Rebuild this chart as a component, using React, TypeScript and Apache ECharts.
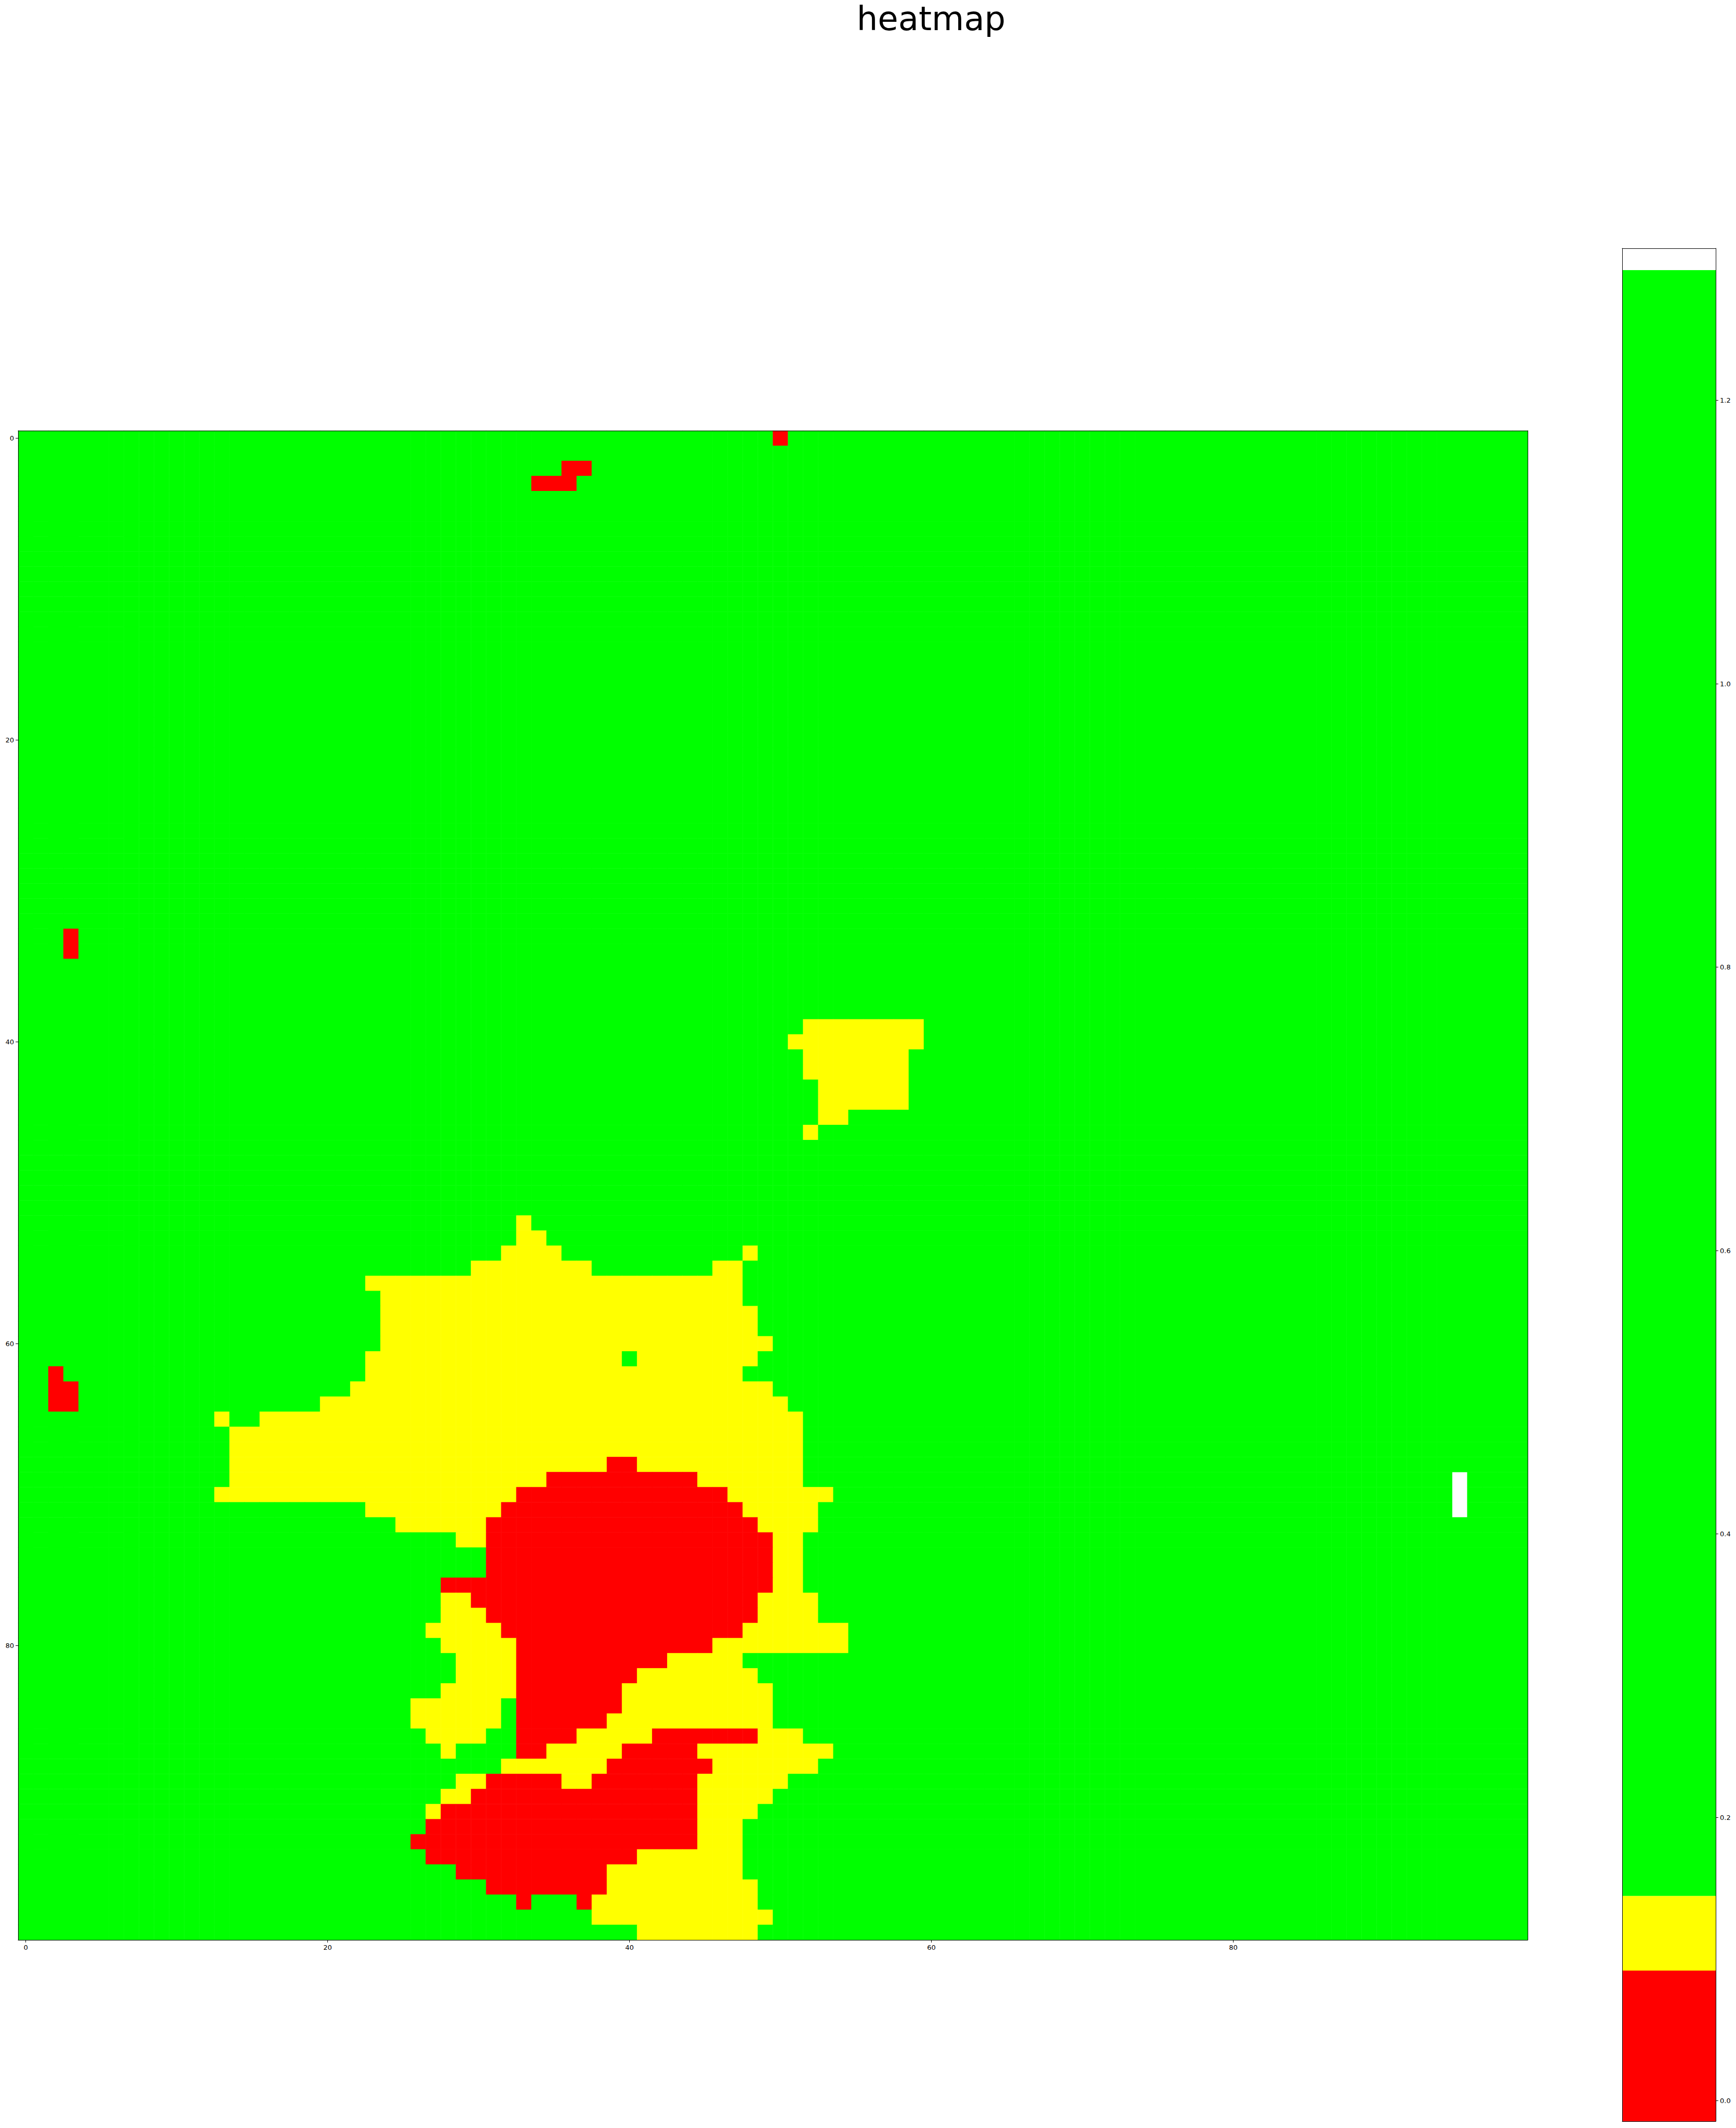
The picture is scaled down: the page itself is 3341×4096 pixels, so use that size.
import React, { useEffect, useRef } from 'react';
import * as echarts from 'echarts';

// ---- Data ----
const N_COLS = 100;
const N_ROWS = 100;
const xCategories: string[] = Array.from({ length: N_COLS }, (_, i) => String(i));
const yCategories: string[] = Array.from({ length: N_ROWS }, (_, i) => String(i));
const axisTickValues: number[] = [0, 20, 40, 60, 80];

// cell levels
const RED_VALUE = 0.0;
const YELLOW_VALUE = 0.12;
const GREEN_VALUE = 1.0; // background level of the field

// runs of cells: [row, firstCol, lastCol]
const redRuns: [number, number, number][] = [
  [0, 50, 50], [2, 36, 37], [3, 34, 36],
  [33, 3, 3], [34, 3, 3],
  [62, 2, 2], [63, 2, 3], [64, 2, 3],
  [68, 39, 40], [69, 35, 44], [70, 33, 46], [71, 32, 47], [72, 31, 48],
  [73, 31, 49], [74, 31, 49], [75, 31, 49], [76, 28, 49], [77, 30, 48],
  [78, 31, 48], [79, 32, 47], [80, 33, 45], [81, 33, 42], [82, 33, 40],
  [83, 33, 39], [84, 33, 39], [85, 33, 38],
  [86, 33, 36], [86, 42, 48],
  [87, 33, 34], [87, 40, 44],
  [88, 39, 45],
  [89, 31, 35], [89, 38, 44],
  [90, 30, 44], [91, 28, 44], [92, 27, 44], [93, 26, 44], [94, 27, 40],
  [95, 29, 38], [96, 31, 38],
  [97, 33, 33], [97, 37, 37],
];

const yellowRuns: [number, number, number][] = [
  [39, 52, 59], [40, 51, 59], [41, 52, 58], [42, 52, 58], [43, 53, 58],
  [44, 53, 58], [45, 53, 54], [46, 52, 52],
  [52, 33, 33], [53, 33, 34],
  [54, 32, 35], [54, 48, 48],
  [55, 30, 37], [55, 46, 47],
  [56, 23, 47], [57, 24, 47], [58, 24, 48], [59, 24, 48], [60, 24, 49],
  [61, 23, 39], [61, 41, 48],
  [62, 23, 47], [63, 22, 49], [64, 20, 50],
  [65, 13, 13], [65, 16, 51],
  [66, 14, 51], [67, 14, 51],
  [68, 14, 38], [68, 41, 51],
  [69, 14, 34], [69, 45, 51],
  [70, 13, 32], [70, 47, 53],
  [71, 23, 31], [71, 48, 52],
  [72, 25, 30], [72, 49, 52],
  [73, 29, 30], [73, 50, 51],
  [74, 50, 51], [75, 50, 51], [76, 50, 51],
  [77, 28, 29], [77, 49, 52],
  [78, 28, 30], [78, 49, 52],
  [79, 27, 31], [79, 48, 54],
  [80, 28, 32], [80, 46, 54],
  [81, 29, 32], [81, 43, 47],
  [82, 29, 32], [82, 41, 48],
  [83, 28, 32], [83, 40, 49],
  [84, 26, 31], [84, 40, 49],
  [85, 26, 31], [85, 39, 49],
  [86, 27, 30], [86, 37, 41], [86, 49, 51],
  [87, 28, 28], [87, 35, 39], [87, 45, 53],
  [88, 32, 38], [88, 46, 52],
  [89, 29, 30], [89, 36, 37], [89, 45, 50],
  [90, 28, 29], [90, 45, 49],
  [91, 27, 27], [91, 45, 48],
  [92, 45, 47], [93, 45, 47], [94, 41, 47], [95, 39, 47], [96, 39, 48],
  [97, 38, 48], [98, 38, 49], [99, 41, 48],
];

const missingRuns: [number, number, number][] = [
  [69, 95, 95], [70, 95, 95], [71, 95, 95],
];

// colorbar
const colorbarBounds: number[] = [-0.0144, 0.0919, 0.1446, 1.292, 1.3073];
const colorbarColors: string[] = ['#ff0000', '#ffff00', '#00ff00', '#ffffff'];
const colorbarTicks: number[] = [0.0, 0.2, 0.4, 0.6, 0.8, 1.0, 1.2];

function buildCells(): (number | string)[][] {
  const field: (number | string)[][] = [];
  for (let r = 0; r < N_ROWS; r++) {
    const row: (number | string)[] = [];
    for (let c = 0; c < N_COLS; c++) row.push(GREEN_VALUE);
    field.push(row);
  }
  const apply = (runs: [number, number, number][], v: number | string) => {
    for (const [r, c0, c1] of runs) for (let c = c0; c <= c1; c++) field[r][c] = v;
  };
  apply(yellowRuns, YELLOW_VALUE);
  apply(redRuns, RED_VALUE);
  apply(missingRuns, '-');
  const out: (number | string)[][] = [];
  for (let r = 0; r < N_ROWS; r++) for (let c = 0; c < N_COLS; c++) out.push([c, r, field[r][c]]);
  return out;
}

const FONT = '"DejaVu Sans", sans-serif';
const showEvery20 = (i: number) => i % 20 === 0;

export default function App() {
  const ref = useRef<HTMLDivElement>(null);
  useEffect(() => {
    if (!ref.current) return;
    const chart = echarts.init(ref.current, undefined, { renderer: 'svg' });
    const frameLine = { show: true, lineStyle: { color: '#000', width: 1 } };
    const option: any = {
      animation: false,
      backgroundColor: '#ffffff',
      textStyle: { fontFamily: FONT },
      graphic: [
        {
          type: 'text',
          x: 1792,
          y: 4,
          style: {
            text: 'heatmap',
            font: `64px ${FONT}`,
            fill: '#000',
            textAlign: 'center',
            textVerticalAlign: 'top',
          },
        },
      ],
      grid: [
        { left: 35, top: 829, width: 2905, height: 2905, containLabel: false },
        { left: 3122, top: 478, width: 180, height: 3605, containLabel: false },
      ],
      xAxis: [
        {
          type: 'category', gridIndex: 0, data: xCategories, position: 'bottom', z: 10,
          axisLine: frameLine,
          axisTick: { show: true, alignWithLabel: true, interval: showEvery20, length: 5, lineStyle: { color: '#000' } },
          axisLabel: { interval: showEvery20, fontSize: 13, color: '#000', margin: 8, fontFamily: FONT },
          splitLine: { show: false },
        },
        {
          type: 'category', gridIndex: 0, data: xCategories, position: 'top', z: 10,
          axisLine: frameLine, axisTick: { show: false }, axisLabel: { show: false }, splitLine: { show: false },
        },
        {
          type: 'value', gridIndex: 1, min: 0, max: 1, position: 'bottom', z: 10,
          axisLine: { ...frameLine, onZero: false }, axisTick: { show: false }, axisLabel: { show: false }, splitLine: { show: false },
        },
        {
          type: 'value', gridIndex: 1, min: 0, max: 1, position: 'top', z: 10,
          axisLine: { ...frameLine, onZero: false }, axisTick: { show: false }, axisLabel: { show: false }, splitLine: { show: false },
        },
      ],
      yAxis: [
        {
          type: 'category', gridIndex: 0, data: yCategories, inverse: true, position: 'left', z: 10,
          axisLine: frameLine,
          axisTick: { show: true, alignWithLabel: true, interval: showEvery20, length: 5, lineStyle: { color: '#000' } },
          axisLabel: { interval: showEvery20, fontSize: 13, color: '#000', margin: 8, fontFamily: FONT },
          splitLine: { show: false },
        },
        {
          type: 'category', gridIndex: 0, data: yCategories, inverse: true, position: 'right', z: 10,
          axisLine: frameLine, axisTick: { show: false }, axisLabel: { show: false }, splitLine: { show: false },
        },
        {
          type: 'value', gridIndex: 1, min: colorbarBounds[0], max: colorbarBounds[colorbarBounds.length - 1],
          position: 'right', z: 10,
          axisLine: { ...frameLine, onZero: false },
          axisTick: { show: true, length: 5, lineStyle: { color: '#000' }, customValues: colorbarTicks },
          axisLabel: {
            fontSize: 13, color: '#000', margin: 8, fontFamily: FONT,
            customValues: colorbarTicks,
            formatter: (v: number) => v.toFixed(1),
          },
          splitLine: { show: false },
        },
        {
          type: 'value', gridIndex: 1, min: colorbarBounds[0], max: colorbarBounds[colorbarBounds.length - 1],
          position: 'left', z: 10,
          axisLine: { ...frameLine, onZero: false }, axisTick: { show: false }, axisLabel: { show: false }, splitLine: { show: false },
        },
      ],
      visualMap: {
        type: 'piecewise',
        show: false,
        seriesIndex: 0,
        dimension: 2,
        pieces: [
          { lt: colorbarBounds[1], color: colorbarColors[0] },
          { gte: colorbarBounds[1], lt: colorbarBounds[2], color: colorbarColors[1] },
          { gte: colorbarBounds[2], lte: colorbarBounds[3], color: colorbarColors[2] },
        ],
      },
      series: [
        {
          type: 'heatmap',
          xAxisIndex: 0,
          yAxisIndex: 0,
          data: buildCells(),
          progressive: 0,
          itemStyle: { borderWidth: 0 },
          emphasis: { disabled: true },
          silent: true,
        },
        {
          type: 'custom',
          xAxisIndex: 2,
          yAxisIndex: 2,
          silent: true,
          data: colorbarColors.map((_, i) => [colorbarBounds[i], colorbarBounds[i + 1]]),
          encode: { y: [0, 1] },
          renderItem: (params: any, api: any) => {
            const lo = api.value(0);
            const hi = api.value(1);
            const p0 = api.coord([0, lo]);
            const p1 = api.coord([1, hi]);
            return {
              type: 'rect',
              shape: { x: p0[0], y: p1[1], width: p1[0] - p0[0], height: p0[1] - p1[1] },
              style: { fill: colorbarColors[params.dataIndex], stroke: null },
            };
          },
        },
      ],
    };
    chart.setOption(option);
    return () => chart.dispose();
  }, []);
  return (
    <div
      ref={ref}
      style={{ position: 'fixed', left: 0, top: 0, width: 3341, height: 4096, background: '#fff' }}
    />
  );
}
